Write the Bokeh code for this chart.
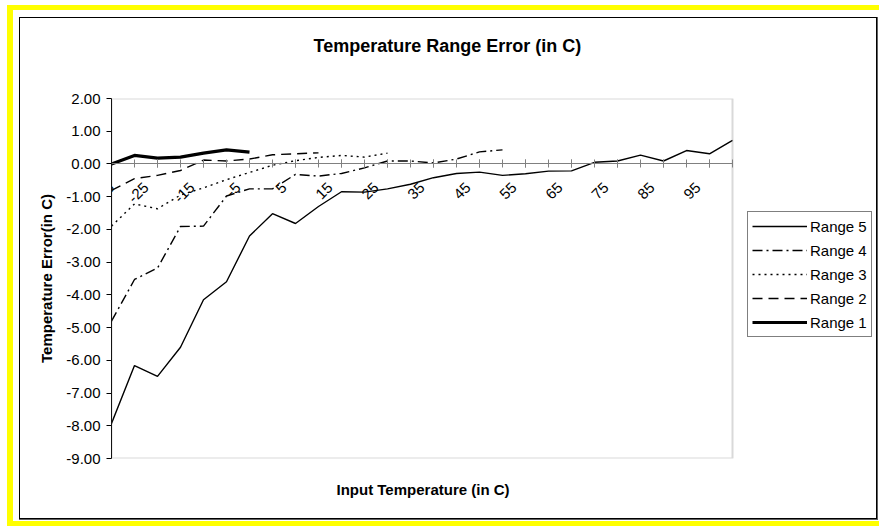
import math
from bokeh.plotting import figure
from bokeh.models import (Range1d, FixedTicker, NumeralTickFormatter, Legend, LegendItem,
                          LinearAxis, BoxAnnotation, Title)
from bokeh.embed import file_html
from bokeh.resources import INLINE

# ---- data ----
categories = [-35, -30, -25, -20, -15, -10, -5, 0, 5, 10, 15, 20, 25, 30, 35, 40, 45,
              50, 55, 60, 65, 70, 75, 80, 85, 90, 95, 100]
tick_labels = [-35, -25, -15, -5, 5, 15, 25, 35, 45, 55, 65, 75, 85, 95]
y_ticks = [-9, -8, -7, -6, -5, -4, -3, -2, -1, 0, 1, 2]

range5 = [-7.93, -6.16, -6.49, -5.60, -4.15, -3.60, -2.20, -1.52, -1.82, -1.30, -0.85,
          -0.86, -0.76, -0.62, -0.42, -0.29, -0.25, -0.35, -0.30, -0.22, -0.21, 0.05,
          0.09, 0.27, 0.09, 0.41, 0.31, 0.72]
range4 = [-4.80, -3.53, -3.18, -1.91, -1.90, -0.98, -0.76, -0.76, -0.32, -0.37, -0.29,
          -0.12, 0.09, 0.09, 0.03, 0.15, 0.37, 0.43]
range3 = [-1.90, -1.22, -1.37, -0.95, -0.73, -0.48, -0.26, -0.04, 0.10, 0.20, 0.26, 0.21, 0.33]
range2 = [-0.81, -0.45, -0.35, -0.20, 0.12, 0.09, 0.15, 0.28, 0.31, 0.34]
range1 = [0.00, 0.26, 0.18, 0.21, 0.33, 0.43, 0.36]

FONT = "Liberation Sans"

# layout (pixels): the frame also holds the legend; the plot area is its left part
W, H = 879, 526
BORDER_L, BORDER_R, BORDER_T, BORDER_B = 111, 7, 98, 68
PLOT_AREA_PX = 621
FRAME_PX = W - BORDER_L - BORDER_R
x0, x1 = categories[0], categories[-1]
x_end = x0 + (x1 - x0) * FRAME_PX / PLOT_AREA_PX
LABEL_SHIFT = 2.5   # rotated category labels sit a little left of their tick, as in Excel

p = figure(width=W, height=H, output_backend="svg", toolbar_location=None,
           x_range=Range1d(x0, x_end), y_range=Range1d(y_ticks[0], y_ticks[-1]),
           min_border_left=BORDER_L, min_border_right=BORDER_R,
           min_border_top=BORDER_T, min_border_bottom=BORDER_B,
           title="Temperature Range Error (in C)")

# chart-area border (black, with a grey shadow) and the yellow frame, drawn as CSS shadows
p.styles = {
    "background-color": "white",
    "box-shadow": ", ".join([
        "inset 7px 0 0 0 #ffffff", "inset 0 5px 0 0 #ffffff",
        "inset 13px 0 0 0 #ffff00", "inset 0 10px 0 0 #ffff00", "inset 0 -5px 0 0 #ffff00",
        "inset 19px 0 0 0 #ffffff", "inset 0 17px 0 0 #ffffff",
        "inset 0 -6px 0 0 #ffffff", "inset -1px 0 0 0 #ffffff",
        "inset 0 -7px 0 0 #606060", "inset -2px 0 0 0 #606060",
        "inset 20px 0 0 0 #000000", "inset 0 18px 0 0 #000000",
        "inset -3px 0 0 0 #000000", "inset 0 -8px 0 0 #000000",
    ]),
}

p.title.align = "left"
p.title.offset = 202
p.title.text_font = FONT
p.title.text_font_size = "18px"
p.title.text_font_style = "bold"
p.title.text_color = "black"

p.background_fill_color = "white"
p.border_fill_color = None
p.outline_line_color = None
p.xgrid.visible = False
p.ygrid.visible = False

# plot-area border
p.add_layout(BoxAnnotation(left=x0, right=x1, bottom=y_ticks[0], top=y_ticks[-1],
                           fill_alpha=0, line_color="#808080", line_width=2))

# x axis crossing at y = 0 (tick marks; only the first label is drawn here)
xa = p.xaxis[0]
xa.fixed_location = 0
xa.bounds = (x0, x1)
xa.ticker = FixedTicker(ticks=tick_labels, minor_ticks=categories)
xa.major_label_overrides = {t: ("" if i > 0 else str(t)) for i, t in enumerate(tick_labels)}
xa.axis_line_color = "#808080"
xa.major_tick_line_color = "#808080"
xa.minor_tick_line_color = "#808080"
xa.major_tick_in = 4
xa.major_tick_out = 4
xa.minor_tick_in = 4
xa.minor_tick_out = 4
xa.major_label_orientation = math.pi / 4
xa.major_label_text_font = FONT
xa.major_label_text_font_size = "15px"
xa.major_label_text_color = "black"
xa.major_label_standoff = 17

# the other category labels, set slightly left of their ticks
label_pos = [t - LABEL_SHIFT for t in tick_labels[1:]]
xl = LinearAxis(fixed_location=0, bounds=(x0, x1),
                ticker=FixedTicker(ticks=label_pos, minor_ticks=[]),
                major_label_overrides={pos: str(t) for pos, t in zip(label_pos, tick_labels[1:])},
                axis_line_alpha=0, major_tick_in=0, major_tick_out=0,
                minor_tick_in=0, minor_tick_out=0,
                major_label_orientation=math.pi / 4,
                major_label_text_font=FONT, major_label_text_font_size="15px",
                major_label_text_color="black", major_label_standoff=21)
p.add_layout(xl, "below")

# empty spacers between the titles and the plot area
spacer_top = LinearAxis(ticker=FixedTicker(ticks=[], minor_ticks=[]), axis_label=" ",
                        axis_label_text_font_size="1px", axis_label_standoff=34,
                        axis_line_alpha=0, major_tick_in=0, major_tick_out=0,
                        minor_tick_in=0, minor_tick_out=0)
p.add_layout(spacer_top, "above")
spacer_bottom = LinearAxis(ticker=FixedTicker(ticks=[], minor_ticks=[]), axis_label=" ",
                           axis_label_text_font_size="1px", axis_label_standoff=11,
                           axis_line_alpha=0, major_tick_in=0, major_tick_out=0,
                           minor_tick_in=0, minor_tick_out=0)
p.add_layout(spacer_bottom, "below")

# x-axis title, centred under the plot area
p.add_layout(Title(text="Input Temperature (in C)", align="left", offset=225,
                   text_font=FONT, text_font_size="15px", text_font_style="bold",
                   text_color="black"), "below")

ya = p.yaxis[0]
ya.ticker = FixedTicker(ticks=y_ticks, minor_ticks=[])
ya.formatter = NumeralTickFormatter(format="0.00")
ya.axis_line_color = "black"
ya.major_tick_line_color = "black"
ya.major_tick_in = 0
ya.major_tick_out = 5
ya.minor_tick_in = 0
ya.minor_tick_out = 0
ya.major_label_text_font = FONT
ya.major_label_text_font_size = "15px"
ya.major_label_text_color = "black"
ya.major_label_standoff = 6
ya.axis_label = "Temperature Error(in C)"
ya.axis_label_text_font = FONT
ya.axis_label_text_font_size = "15px"
ya.axis_label_text_font_style = "bold"
ya.axis_label_text_color = "black"
ya.axis_label_standoff = 8

# series
r_5 = p.line(categories[:len(range5)], range5, line_color="black", line_width=1.4)
r_4 = p.line(categories[:len(range4)], range4, line_color="black", line_width=1.4, line_dash="10 4 2 4")
r_3 = p.line(categories[:len(range3)], range3, line_color="black", line_width=1.4, line_dash="2 4")
r_2 = p.line(categories[:len(range2)], range2, line_color="black", line_width=1.4, line_dash="10 6")
r_1 = p.line(categories[:len(range1)], range1, line_color="black", line_width=3.2)

legend = Legend(items=[LegendItem(label="Range 5", renderers=[r_5]),
                       LegendItem(label="Range 4", renderers=[r_4]),
                       LegendItem(label="Range 3", renderers=[r_3]),
                       LegendItem(label="Range 2", renderers=[r_2]),
                       LegendItem(label="Range 1", renderers=[r_1])],
                location=(636, 121), orientation="vertical",
                glyph_width=55, glyph_height=20, label_height=20, label_standoff=3,
                spacing=4, padding=4, margin=0,
                label_text_font=FONT, label_text_font_size="15px", label_text_color="black",
                border_line_color="black", border_line_width=1,
                background_fill_color="white", background_fill_alpha=1)
p.add_layout(legend)

open("out.html", "w").write(file_html(p, INLINE))
